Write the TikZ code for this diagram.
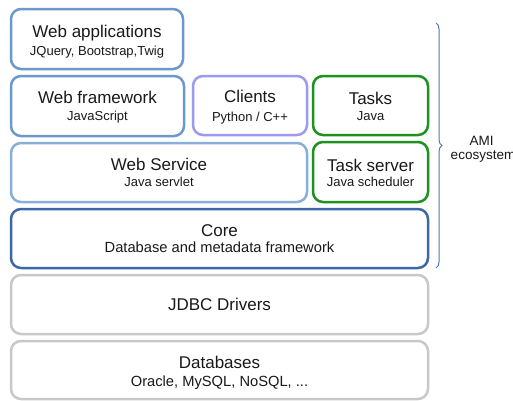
\documentclass[tikz,border=0pt]{standalone}
\usepackage{fontspec}
\setmainfont{Liberation Sans}
\usetikzlibrary{decorations.pathreplacing}
\definecolor{cblue}{RGB}{108,153,204}
\definecolor{csvc}{RGB}{135,175,215}
\definecolor{ccore}{RGB}{62,104,165}
\definecolor{cclient}{RGB}{155,155,240}
\definecolor{cgreen}{RGB}{30,145,30}
\definecolor{cgray}{RGB}{200,200,200}
\definecolor{cbrace}{RGB}{80,120,180}
\definecolor{ctext}{RGB}{25,25,25}
\begin{document}
\begin{tikzpicture}[x=1pt,y=-1pt,
 box/.style={draw=#1, line width=2.5pt, rounded corners=10pt, fill=white, inner sep=0pt},
 ttl/.style={anchor=base, font=\fontsize{17}{17}\selectfont, inner sep=0pt, text=ctext},
 sub/.style={anchor=base, font=\fontsize{13}{13}\selectfont, inner sep=0pt, text=ctext},
 bigsub/.style={anchor=base, font=\fontsize{14.7}{14.7}\selectfont, inner sep=0pt, text=ctext},
 side/.style={anchor=base, font=\fontsize{13.5}{13.5}\selectfont, inner sep=0pt, text=ctext}]
\useasboundingbox (0,0) rectangle (513,400);
\fill[white] (0,0) rectangle (513,400);
% boxes
\node[box=cblue, minimum width=172pt, minimum height=60pt] (webapp) at (97,39) {};
\node[box=cblue, minimum width=173pt, minimum height=60pt] (webfw) at (97.5,106) {};
\node[box=cclient, minimum width=114pt, minimum height=59pt] (clients) at (250,105.5) {};
\node[box=cgreen, minimum width=115pt, minimum height=59pt] (tasks) at (370.5,105.5) {};
\node[box=csvc, minimum width=296pt, minimum height=59pt] (websvc) at (159,172.5) {};
\node[box=cgreen, minimum width=115pt, minimum height=60pt] (tasksrv) at (370.5,172) {};
\node[box=ccore, minimum width=417pt, minimum height=59pt] (core) at (219.5,238.5) {};
\node[box=cgray, minimum width=417pt, minimum height=59pt] (jdbc) at (219.5,304.5) {};
\node[box=cgray, minimum width=417pt, minimum height=58pt] (db) at (219.5,370) {};
% texts
\node[ttl] (t1) at (97,37) {Web applications};
\node[sub] (s1) at (97,55) {JQuery, Bootstrap,Twig};
\node[ttl] (t2) at (97.5,103.5) {Web framework};
\node[sub] (s2) at (97.5,120) {JavaScript};
\node[ttl] (t3) at (250,102) {Clients};
\node[sub] (s3) at (250,121.5) {Python / C++};
\node[ttl] (t4) at (370.5,104) {Tasks};
\node[sub] (s4) at (370.5,120) {Java};
\node[ttl] (t5) at (159,170.5) {Web Service};
\node[sub] (s5) at (159,186) {Java servlet};
\node[ttl] (t6) at (370.5,171) {Task server};
\node[sub] (s6) at (370.5,186) {Java scheduler};
\node[ttl] (t7) at (219.5,236) {Core};
\node[bigsub] (s7) at (219.5,252) {Database and metadata framework};
\node[ttl] (t8) at (219.5,310.5) {JDBC Drivers};
\node[ttl] (t9) at (219.5,368) {Databases};
\node[bigsub] (s9) at (219.5,386) {Oracle, MySQL, NoSQL, ...};
% brace
\coordinate (btop) at (436,23);
\coordinate (bbot) at (436,268);
\draw[cbrace, line width=1pt, decorate, decoration={brace, amplitude=6pt}] (btop) -- (bbot);
\node[side] (ami) at (481.5,145) {AMI};
\node[side] (eco) at (483,159) {ecosystem};
\end{tikzpicture}
\end{document}
